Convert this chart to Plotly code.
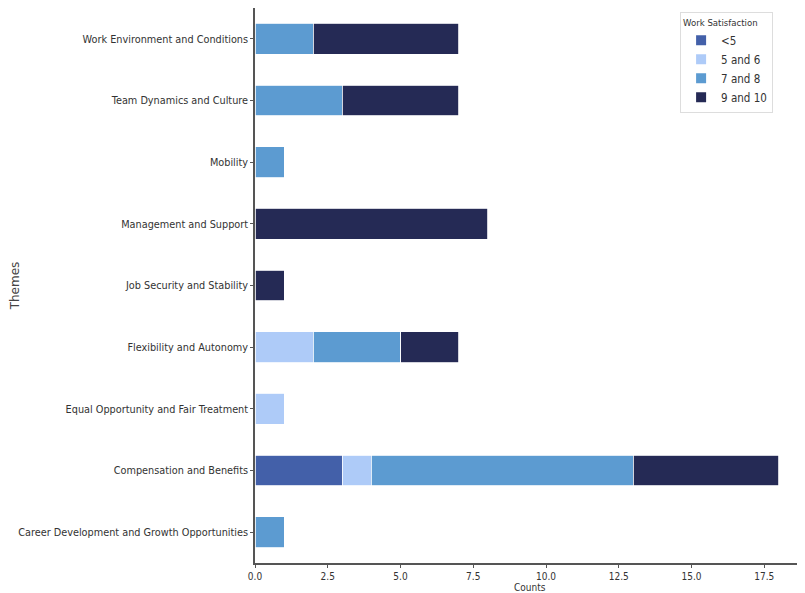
import plotly.graph_objects as go

themes = [
    "Career Development and Growth Opportunities",
    "Compensation and Benefits",
    "Equal Opportunity and Fair Treatment",
    "Flexibility and Autonomy",
    "Job Security and Stability",
    "Management and Support",
    "Mobility",
    "Team Dynamics and Culture",
    "Work Environment and Conditions",
]
series_names = ["<5", "5 and 6", "7 and 8", "9 and 10"]
lt5 =      [0, 3, 0, 0, 0, 0, 0, 0, 0]
s5_6 =     [0, 1, 1, 2, 0, 0, 0, 0, 0]
s7_8 =     [1, 9, 0, 3, 0, 0, 1, 3, 2]
s9_10 =    [0, 5, 0, 2, 1, 8, 0, 4, 5]
colors = ["#4360a9", "#aecbf8", "#5c9bd1", "#252a55"]
x_ticks = [0, 2.5, 5, 7.5, 10, 12.5, 15, 17.5]
x_tick_labels = ["0.0", "2.5", "5.0", "7.5", "10.0", "12.5", "15.0", "17.5"]

font = "DejaVu Sans Condensed, Liberation Sans Narrow, DejaVu Sans, sans-serif"

fig = go.Figure()
for name, vals, col in zip(series_names, [lt5, s5_6, s7_8, s9_10], colors):
    fig.add_trace(go.Bar(
        y=themes, x=vals, name=name, orientation="h",
        marker=dict(color=col, line=dict(color="white", width=0.8)),
    ))

fig.update_layout(
    barmode="stack",
    bargap=0.5,
    width=797, height=585,
    margin=dict(l=247, r=0, t=0, b=30, autoexpand=False),
    plot_bgcolor="white", paper_bgcolor="white",
    font=dict(family=font, size=11, color="#333333"),
    legend=dict(
        title=dict(text="Work Satisfaction", font=dict(size=9.5, family=font)),
        font=dict(size=11.5, family=font),
        x=0.942, y=0.992, xanchor="right", yanchor="top",
        bordercolor="#dddddd", borderwidth=1, bgcolor="white",
        traceorder="normal", itemsizing="constant",
        tracegroupgap=0,
    ),
    xaxis=dict(
        range=[0, 18.9], tickvals=x_ticks, ticktext=x_tick_labels,
        showgrid=False, zeroline=False, automargin=False,
        showline=True, linecolor="#555555", linewidth=1.5,
        ticks="outside", ticklen=3, tickcolor="#555555",
        tickfont=dict(size=10, family=font),
    ),
    yaxis=dict(
        range=[-0.5, 8.5], showgrid=False, zeroline=False, automargin=False,
        showline=True, linecolor="#555555", linewidth=1.5,
        ticks="outside", ticklen=3, tickcolor="#555555",
        tickfont=dict(size=10.8, family=font),
        title=dict(text="Themes", font=dict(size=12, family="DejaVu Sans", color="#444444"), standoff=0),
    ),
    annotations=[dict(
        text="Counts", xref="paper", yref="paper", x=0.5, y=0,
        xanchor="center", yanchor="middle", yshift=-24, showarrow=False,
        font=dict(size=10, family=font, color="#333333"),
    )],
)
fig.write_html("out.html")
